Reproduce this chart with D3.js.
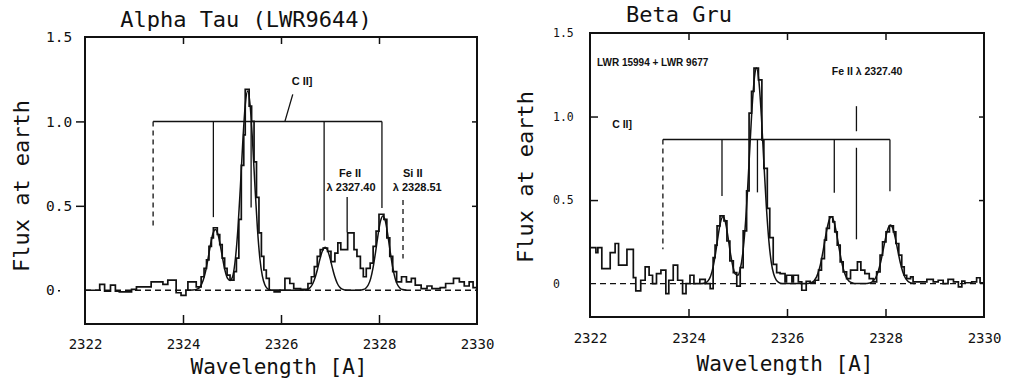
<!DOCTYPE html>
<html>
<head>
<meta charset="utf-8">
<script src="https://cdn.jsdelivr.net/npm/d3@7"></script>
<style>
  html, body { margin: 0; padding: 0; background: #fff; }
  svg { display: block; }
</style>
</head>
<body>
<script>
// axis ticks (same for both panels)
const wavelengthTicks = [2322, 2324, 2326, 2328, 2330];
const innerWaveTicks = [2324, 2326, 2328];
const fluxTicks = [0, 0.5, 1.0, 1.5];
const rightFluxTicks = [0.5, 1.0];

// Alpha Tau: observed spectrum as steps [wavelength start, flux]
const alphaObserved = [
  [2322.00, 0.00], [2322.30, 0.035], [2322.40, -0.005], [2322.52, 0.03], [2322.62, -0.005],
  [2322.70, -0.01], [2322.95, 0.005], [2323.05, 0.02], [2323.35, 0.05], [2323.59, 0.035],
  [2323.69, 0.06], [2323.86, -0.015], [2323.96, -0.03], [2324.06, 0.0], [2324.10, 0.05],
  [2324.27, 0.02], [2324.37, 0.08], [2324.43, 0.13], [2324.48, 0.18], [2324.53, 0.26],
  [2324.58, 0.31], [2324.62, 0.37], [2324.70, 0.33], [2324.75, 0.27], [2324.80, 0.19],
  [2324.85, 0.13], [2324.90, 0.09], [2324.96, 0.06], [2325.04, 0.11], [2325.09, 0.19],
  [2325.14, 0.42], [2325.19, 0.74], [2325.24, 0.92], [2325.27, 1.19], [2325.35, 1.09],
  [2325.40, 1.00], [2325.45, 0.76], [2325.50, 0.55], [2325.55, 0.34], [2325.60, 0.20],
  [2325.65, 0.12], [2325.70, 0.07], [2325.76, 0.0], [2325.86, -0.01], [2325.98, 0.0],
  [2326.08, 0.07], [2326.18, 0.04], [2326.26, 0.01], [2326.40, 0.005], [2326.55, 0.04],
  [2326.62, 0.08], [2326.68, 0.14], [2326.74, 0.20], [2326.80, 0.24], [2326.86, 0.25],
  [2326.95, 0.23], [2327.02, 0.17], [2327.10, 0.22], [2327.16, 0.28], [2327.22, 0.24],
  [2327.36, 0.34], [2327.49, 0.24], [2327.55, 0.20], [2327.62, 0.13], [2327.68, 0.08],
  [2327.74, 0.13], [2327.82, 0.16], [2327.88, 0.26], [2327.94, 0.35], [2328.00, 0.45],
  [2328.10, 0.42], [2328.16, 0.31], [2328.22, 0.20], [2328.28, 0.11], [2328.36, 0.05],
  [2328.46, 0.08], [2328.56, 0.05], [2328.66, 0.07], [2328.74, 0.03], [2328.86, 0.01],
  [2328.98, 0.025], [2329.08, 0.01], [2329.25, 0.015], [2329.36, 0.04], [2329.52, 0.07],
  [2329.64, 0.05], [2329.74, 0.025], [2329.84, 0.05], [2329.92, 0.015], [2330.00, 0.015]
];

// Alpha Tau: fitted profile [wavelength, flux]
const alphaFit = [
  [2324.10, 0.0], [2324.20, 0.001], [2324.31, 0.01], [2324.36, 0.025], [2324.41, 0.057],
  [2324.46, 0.110], [2324.51, 0.185], [2324.56, 0.268], [2324.61, 0.334], [2324.66, 0.36],
  [2324.71, 0.334], [2324.76, 0.268], [2324.81, 0.186], [2324.86, 0.114], [2324.91, 0.070],
  [2324.96, 0.058], [2325.01, 0.079], [2325.06, 0.163], [2325.12, 0.361], [2325.17, 0.607],
  [2325.22, 0.878], [2325.27, 1.096], [2325.32, 1.18], [2325.37, 1.096], [2325.42, 0.878],
  [2325.47, 0.607], [2325.52, 0.361], [2325.57, 0.185], [2325.62, 0.083], [2325.67, 0.032],
  [2325.72, 0.010], [2325.80, 0.0], [2326.45, 0.0], [2326.55, 0.007], [2326.60, 0.018],
  [2326.65, 0.040], [2326.70, 0.078], [2326.75, 0.131], [2326.80, 0.190], [2326.85, 0.237],
  [2326.90, 0.255], [2326.95, 0.237], [2327.00, 0.190], [2327.05, 0.131], [2327.10, 0.078],
  [2327.15, 0.040], [2327.20, 0.018], [2327.25, 0.007], [2327.35, 0.0], [2327.60, 0.0],
  [2327.68, 0.004], [2327.73, 0.012], [2327.78, 0.031], [2327.83, 0.069], [2327.88, 0.135],
  [2327.93, 0.226], [2327.98, 0.327], [2328.03, 0.409], [2328.08, 0.44], [2328.13, 0.409],
  [2328.18, 0.327], [2328.23, 0.226], [2328.28, 0.135], [2328.33, 0.069], [2328.38, 0.031],
  [2328.43, 0.012], [2328.48, 0.004], [2328.56, 0.0]
];

// Beta Gru: observed spectrum as steps [wavelength start, flux]
const betaObserved = [
  [2322.00, 0.215], [2322.12, 0.185], [2322.16, 0.215], [2322.24, 0.09], [2322.41, 0.185],
  [2322.51, 0.24], [2322.58, 0.11], [2322.75, 0.205], [2322.88, 0.036], [2322.93, -0.044],
  [2323.03, 0.02], [2323.12, 0.10], [2323.20, 0.05], [2323.27, 0.0], [2323.35, 0.06],
  [2323.44, 0.08], [2323.54, -0.06], [2323.60, 0.02], [2323.69, 0.11], [2323.78, 0.02],
  [2323.88, -0.06], [2323.95, 0.0], [2324.03, 0.05], [2324.11, 0.0], [2324.23, 0.025],
  [2324.34, 0.0], [2324.44, -0.03], [2324.50, 0.155], [2324.54, 0.23], [2324.58, 0.345],
  [2324.64, 0.405], [2324.72, 0.375], [2324.78, 0.255], [2324.84, 0.136], [2324.91, 0.066],
  [2324.98, -0.015], [2325.05, 0.096], [2325.11, 0.315], [2325.18, 0.555], [2325.23, 1.02],
  [2325.28, 1.15], [2325.33, 1.29], [2325.42, 1.22], [2325.49, 0.86], [2325.53, 0.69],
  [2325.60, 0.45], [2325.65, 0.275], [2325.72, 0.115], [2325.79, 0.066], [2325.86, 0.06],
  [2325.96, 0.01], [2325.99, 0.05], [2326.10, 0.01], [2326.13, 0.05], [2326.23, 0.01],
  [2326.30, -0.04], [2326.39, 0.014], [2326.47, 0.004], [2326.57, 0.02], [2326.64, 0.08],
  [2326.70, 0.15], [2326.76, 0.26], [2326.80, 0.33], [2326.86, 0.40], [2326.93, 0.37],
  [2326.97, 0.31], [2327.02, 0.23], [2327.08, 0.13], [2327.14, 0.07], [2327.21, 0.03],
  [2327.29, 0.08], [2327.43, 0.13], [2327.50, 0.08], [2327.58, 0.06], [2327.67, 0.03],
  [2327.75, 0.01], [2327.82, 0.07], [2327.89, 0.17], [2327.94, 0.25], [2328.01, 0.31],
  [2328.08, 0.345], [2328.16, 0.31], [2328.21, 0.24], [2328.27, 0.17], [2328.33, 0.10],
  [2328.38, 0.05], [2328.43, 0.03], [2328.51, 0.04], [2328.56, 0.01], [2328.84, 0.025],
  [2328.97, 0.01], [2329.07, 0.02], [2329.17, 0.0], [2329.27, 0.025], [2329.38, 0.01],
  [2329.48, -0.02], [2329.55, 0.015], [2329.61, 0.005], [2329.75, 0.01], [2329.85, 0.035],
  [2329.92, 0.005], [2330.00, 0.005]
];

// Beta Gru: fitted profile [wavelength, flux]
const betaFit = [
  [2324.25, 0.0], [2324.30, 0.0015], [2324.35, 0.0056], [2324.40, 0.0176], [2324.45, 0.046],
  [2324.50, 0.100], [2324.55, 0.183], [2324.60, 0.283], [2324.65, 0.367], [2324.70, 0.40],
  [2324.75, 0.367], [2324.80, 0.283], [2324.85, 0.184], [2324.90, 0.104], [2324.95, 0.057],
  [2325.00, 0.050], [2325.05, 0.086], [2325.10, 0.176], [2325.15, 0.334], [2325.20, 0.564],
  [2325.25, 0.838], [2325.30, 1.095], [2325.35, 1.26], [2325.38, 1.29], [2325.43, 1.21],
  [2325.48, 1.00], [2325.53, 0.726], [2325.58, 0.464], [2325.63, 0.262], [2325.68, 0.129],
  [2325.73, 0.057], [2325.78, 0.022], [2325.83, 0.0074], [2325.90, 0.0], [2326.40, 0.0007],
  [2326.45, 0.0023], [2326.50, 0.0068], [2326.55, 0.0176], [2326.60, 0.040], [2326.65, 0.081],
  [2326.70, 0.144], [2326.75, 0.225], [2326.80, 0.310], [2326.85, 0.375], [2326.90, 0.40],
  [2326.95, 0.375], [2327.00, 0.310], [2327.05, 0.225], [2327.10, 0.144], [2327.15, 0.081],
  [2327.20, 0.040], [2327.25, 0.0176], [2327.30, 0.0068], [2327.35, 0.0023], [2327.40, 0.0007],
  [2327.60, 0.0006], [2327.65, 0.002], [2327.70, 0.006], [2327.75, 0.0154], [2327.80, 0.035],
  [2327.85, 0.071], [2327.90, 0.126], [2327.95, 0.197], [2328.00, 0.271], [2328.05, 0.328],
  [2328.10, 0.35], [2328.15, 0.328], [2328.20, 0.271], [2328.25, 0.197], [2328.30, 0.126],
  [2328.35, 0.071], [2328.40, 0.035], [2328.45, 0.0154], [2328.50, 0.006], [2328.55, 0.002],
  [2328.60, 0.0]
];

// C II] multiplet markers: wavelengths, lower ends, level of the bar
const alphaMultipletWave = [2323.39, 2324.62, 2325.39, 2326.88, 2328.06];
const alphaMultipletEnd = [0.375, 0.433, 0.49, 0.295, 0.487];
const alphaMultipletLevel = 1.0;
const betaMultipletWave = [2323.48, 2324.68, 2325.40, 2326.96, 2328.09];
const betaMultipletEnd = [0.205, 0.524, 0.546, 0.544, 0.553];
const betaMultipletLevel = 0.862;

// other line markers: [wavelength, top, bottom]
const alphaFeMarker = [[2327.35, 0.553, 0.343]];
const alphaSiMarker = [[2328.49, 0.535, 0.188]];
const betaFeMarker = [[2327.41, 1.062, 0.912], [2327.41, 0.813, 0.265]];

var MONO = "'DejaVu Sans Mono', monospace";
var SANS = "'Liberation Sans', Arial, sans-serif";
var INK = "#111";

var svg = d3.select("body").append("svg")
    .attr("width", 1011)
    .attr("height", 379)
    .style("background", "#fff");

function drawPanel(p) {
  var x = d3.scaleLinear().domain([2322, 2330]).range(p.xRange);
  var y = d3.scaleLinear().domain([-0.2, 1.5]).range(p.yRange);
  var g = svg.append("g");

  // frame
  g.append("rect")
      .attr("x", p.xRange[0]).attr("y", p.yRange[1])
      .attr("width", p.xRange[1] - p.xRange[0])
      .attr("height", p.yRange[0] - p.yRange[1])
      .attr("fill", "none").attr("stroke", INK).attr("stroke-width", 2);

  // bottom axis with labels, ticks pointing inward
  var bottom = g.append("g")
      .attr("transform", "translate(0," + p.yRange[0] + ")")
      .call(d3.axisBottom(x).tickValues(wavelengthTicks).tickFormat(d3.format("d"))
        .tickSizeInner(-p.bottomTick).tickSizeOuter(0).tickPadding(p.xTickPad));
  bottom.select(".domain").remove();
  bottom.selectAll(".tick line").filter(d => innerWaveTicks.indexOf(d) < 0).remove();
  bottom.selectAll(".tick line").attr("stroke", INK).attr("stroke-width", 1.5);
  bottom.selectAll("text").attr("font-family", MONO).attr("font-size", 14).attr("fill", INK);

  // top ticks
  var top = g.append("g")
      .attr("transform", "translate(0," + p.yRange[1] + ")")
      .call(d3.axisTop(x).tickValues(innerWaveTicks).tickFormat("").tickSizeInner(-7).tickSizeOuter(0));
  top.select(".domain").remove();
  top.selectAll(".tick line").attr("stroke", INK).attr("stroke-width", 1.5);

  // left axis
  var left = g.append("g")
      .attr("transform", "translate(" + p.xRange[0] + ",0)")
      .call(d3.axisLeft(y).tickValues(fluxTicks)
        .tickFormat(d => d === 0 ? "0" : d.toFixed(1))
        .tickSizeInner(p.leftTick).tickSizeOuter(0));
  left.select(".domain").remove();
  left.selectAll(".tick line").attr("stroke", INK).attr("stroke-width", 1.5);
  left.selectAll(".tick line").filter(d => d === 1.5).remove();
  left.selectAll(".tick line").filter(d => d === 0)
      .attr("x1", p.zeroTick[0]).attr("x2", p.zeroTick[1]);
  left.selectAll("text")
      .attr("text-anchor", "start")
      .attr("x", p.yTickX - p.xRange[0])
      .attr("font-family", MONO).attr("font-size", p.yTickSize).attr("fill", INK);

  // right ticks
  var right = g.append("g")
      .attr("transform", "translate(" + p.xRange[1] + ",0)")
      .call(d3.axisRight(y).tickValues(rightFluxTicks).tickFormat("").tickSizeInner(-5).tickSizeOuter(0));
  right.select(".domain").remove();
  right.selectAll(".tick line").attr("stroke", INK).attr("stroke-width", 1.5);

  // zero level
  g.append("line")
      .attr("x1", x(2322)).attr("x2", x(2330))
      .attr("y1", y(0)).attr("y2", y(0))
      .attr("stroke", INK).attr("stroke-width", 1.4).attr("stroke-dasharray", "6,4");

  // fitted profile
  g.append("path")
      .datum(p.fit)
      .attr("fill", "none").attr("stroke", INK).attr("stroke-width", 1.5)
      .attr("stroke-linejoin", "round")
      .attr("d", d3.line().curve(d3.curveMonotoneX)
        .x(d => x(d[0])).y(d => y(d[1])));

  // observed spectrum
  g.append("path")
      .datum(p.observed)
      .attr("fill", "none").attr("stroke", INK).attr("stroke-width", 1.7)
      .attr("d", d3.line().curve(d3.curveStepAfter)
        .x(d => x(d[0])).y(d => y(d[1])));

  // multiplet bar
  var mw = p.multipletWave;
  g.append("line")
      .attr("x1", x(mw[0])).attr("x2", x(mw[mw.length - 1]))
      .attr("y1", y(p.multipletLevel)).attr("y2", y(p.multipletLevel))
      .attr("stroke", INK).attr("stroke-width", 1.5);
  g.selectAll(null)
      .data(mw)
      .join("line")
      .attr("x1", d => x(d)).attr("x2", d => x(d))
      .attr("y1", y(p.multipletLevel))
      .attr("y2", (d, i) => y(p.multipletEnd[i]))
      .attr("stroke", INK).attr("stroke-width", 1.3)
      .attr("stroke-dasharray", (d, i) => i === 0 ? "5,4" : null);

  // single line markers
  p.markers.forEach(function(m) {
    g.selectAll(null)
        .data(m.data)
        .join("line")
        .attr("x1", d => x(d[0])).attr("x2", d => x(d[0]))
        .attr("y1", d => y(d[1])).attr("y2", d => y(d[2]))
        .attr("stroke", INK).attr("stroke-width", 1.3)
        .attr("stroke-dasharray", m.dashed ? "5,4" : null);
  });

  // leader lines
  (p.leaders || []).forEach(function(l) {
    g.append("line")
        .attr("x1", x(l[0])).attr("y1", y(l[1]))
        .attr("x2", x(l[2])).attr("y2", y(l[3]))
        .attr("stroke", INK).attr("stroke-width", 1.3);
  });

  // annotation texts
  p.notes.forEach(function(n) {
    g.append("text")
        .attr("x", x(n.at[0])).attr("y", y(n.at[1]))
        .attr("text-anchor", n.anchor || "middle")
        .attr("dominant-baseline", "middle")
        .attr("font-family", SANS).attr("font-weight", "bold")
        .attr("font-size", n.size || 11).attr("fill", INK)
        .text(n.text);
  });

  // titles and axis labels
  g.append("text")
      .attr("x", p.title[1]).attr("y", p.title[2])
      .attr("text-anchor", "middle")
      .attr("font-family", MONO).attr("font-size", 22).attr("fill", INK)
      .text(p.title[0]);
  g.append("text")
      .attr("x", p.xLabel[0]).attr("y", p.xLabel[1])
      .attr("text-anchor", "middle")
      .attr("font-family", MONO).attr("font-size", 21).attr("fill", INK)
      .text("Wavelength [A]");
  g.append("text")
      .attr("transform", "translate(" + p.yLabel[0] + "," + p.yLabel[1] + ") rotate(-90)")
      .attr("text-anchor", "middle")
      .attr("dominant-baseline", "middle")
      .attr("font-family", MONO).attr("font-size", 22).attr("fill", INK)
      .text("Flux at earth");
}

drawPanel({
  xRange: [85, 477], yRange: [324, 37],
  observed: alphaObserved, fit: alphaFit,
  multipletWave: alphaMultipletWave, multipletEnd: alphaMultipletEnd,
  multipletLevel: alphaMultipletLevel,
  markers: [{data: alphaFeMarker, dashed: false}, {data: alphaSiMarker, dashed: true}],
  leaders: [[2326.24, 1.16, 2326.08, 1.0]],
  notes: [
    {text: "C II]", at: [2326.43, 1.234]},
    {text: "Fe II", at: [2327.41, 0.685]},
    {text: "\u03bb 2327.40", at: [2327.43, 0.605]},
    {text: "Si II", at: [2328.69, 0.685]},
    {text: "\u03bb 2328.51", at: [2328.78, 0.605]}
  ],
  bottomTick: 9, leftTick: 9, zeroTick: [-27, -25], xTickPad: 15,
  yTickX: 46, yTickSize: 14.5,
  title: ["Alpha Tau (LWR9644)", 246, 27],
  xLabel: [279, 374], yLabel: [23, 186]
});

drawPanel({
  xRange: [590, 984], yRange: [317, 33],
  observed: betaObserved, fit: betaFit,
  multipletWave: betaMultipletWave, multipletEnd: betaMultipletEnd,
  multipletLevel: betaMultipletLevel,
  markers: [{data: betaFeMarker, dashed: false}],
  notes: [
    {text: "LWR 15994 + LWR 9677", at: [2322.14, 1.317], anchor: "start", size: 10},
    {text: "Fe II  \u03bb 2327.40", at: [2326.91, 1.263], anchor: "start", size: 10.5},
    {text: "C II]", at: [2322.45, 0.946], anchor: "start", size: 10.5}
  ],
  bottomTick: 8, leftTick: -8, zeroTick: [0, 0], xTickPad: 16,
  yTickX: 553, yTickSize: 11.5,
  title: ["Beta Gru", 679, 22],
  xLabel: [785, 371], yLabel: [527, 177]
});
</script>
</body>
</html>
